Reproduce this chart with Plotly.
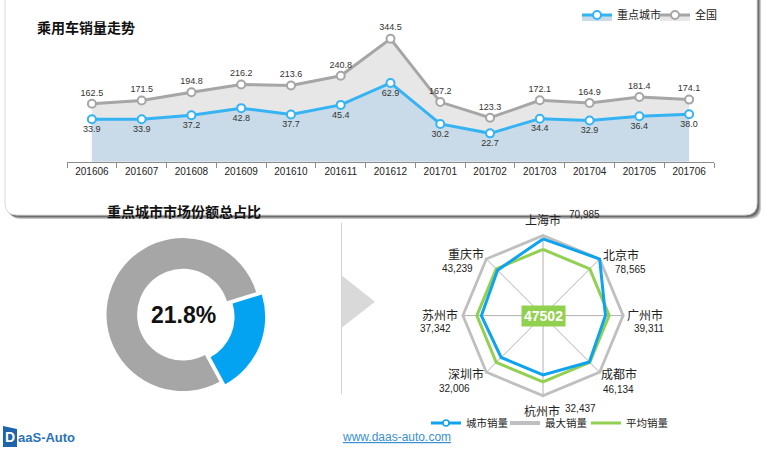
import plotly.graph_objects as go

W, H = 772, 451

# ---------------- data ----------------
months = ["201606", "201607", "201608", "201609", "201610", "201611", "201612",
          "201701", "201702", "201703", "201704", "201705", "201706"]
national = [162.5, 171.5, 194.8, 216.2, 213.6, 240.8, 344.5, 167.2, 123.3, 172.1, 164.9, 181.4, 174.1]
key_cities = [33.9, 33.9, 37.2, 42.8, 37.7, 45.4, 62.9, 30.2, 22.7, 34.4, 32.9, 36.4, 38.0]

share_labels = ["重点城市", "其他"]
share_values = [21.8, 78.2]

cities = ["上海市", "北京市", "广州市", "成都市", "杭州市", "深圳市", "苏州市", "重庆市"]
city_sales = [70985, 78565, 39311, 46134, 32437, 32006, 37342, 43239]
max_sales = [80000] * 8
avg_sales = [47502] * 8

FONT = "Arial, Liberation Sans, Noto Sans CJK SC, sans-serif"
CJK = "Noto Sans CJK SC, Arial, sans-serif"

def px(x):
    return x / W

def py(y):
    return 1 - y / H

fig = go.Figure()

# ---------------- line chart ----------------
fig.add_trace(go.Scatter(
    x=months, y=national, name="全国", mode="lines+markers+text",
    line=dict(color="#a6a6a6", width=3),
    marker=dict(size=8, color="white", line=dict(color="#a6a6a6", width=2)),
    fill="tozeroy", fillcolor="#e7e7e7",
    text=[f"{v:.1f}" for v in national], textposition="top center",
    textfont=dict(size=9, color="#333", family=FONT),
    xaxis="x", yaxis="y", legend="legend", legendrank=2,
))
fig.add_trace(go.Scatter(
    x=months, y=key_cities, name="重点城市", mode="lines+markers+text",
    line=dict(color="#35b3f3", width=3),
    marker=dict(size=8, color="white", line=dict(color="#35b3f3", width=2)),
    fill="tozeroy", fillcolor="#c9dbe8",
    text=[f"{v:.1f}" for v in key_cities], textposition="bottom center",
    textfont=dict(size=9, color="#333", family=FONT),
    xaxis="x", yaxis="y2", legend="legend", legendrank=1,
))

# ---------------- donut ----------------
fig.add_trace(go.Pie(
    labels=share_labels, values=share_values, hole=0.6, sort=False,
    direction="clockwise", rotation=73, pull=[0.08, 0],
    marker=dict(colors=["#04a3f2", "#a6a6a6"], line=dict(width=0)),
    textinfo="none", showlegend=False,
    domain=dict(x=[px(100), px(266)], y=[py(397), py(231)]),
))

# ---------------- radar ----------------
theta = cities + [cities[0]]
fig.add_trace(go.Scatterpolar(
    r=max_sales + [max_sales[0]], theta=theta, name="最大销量", mode="lines",
    line=dict(color="#bfbfbf", width=4), subplot="polar", legend="legend3",
))
fig.add_trace(go.Scatterpolar(
    r=avg_sales + [avg_sales[0]], theta=theta, name="平均销量", mode="lines",
    line=dict(color="#92d050", width=3), subplot="polar", legend="legend4",
))
fig.add_trace(go.Scatterpolar(
    r=city_sales + [city_sales[0]], theta=theta, name="城市销量", mode="lines+markers",
    line=dict(color="#0fa2ef", width=3),
    marker=dict(size=6, color="white", line=dict(color="#0fa2ef", width=1.5)),
    subplot="polar", legend="legend2",
))

# ---------------- shapes ----------------
def rounded_rect(x0, y0, x1, y1, r):
    X0, X1 = px(x0), px(x1)
    Y0, Y1 = py(y0), py(y1)
    rx, ry = r / W, r / H
    return (f"M {X0+rx},{Y0} L {X1-rx},{Y0} Q {X1},{Y0} {X1},{Y0-ry} "
            f"L {X1},{Y1+ry} Q {X1},{Y1} {X1-rx},{Y1} L {X0+rx},{Y1} "
            f"Q {X0},{Y1} {X0},{Y1+ry} L {X0},{Y0-ry} Q {X0},{Y0} {X0+rx},{Y0} Z")

shapes = []
for off, col in [(4, "#c8c8c8"), (3, "#9a9a9a"), (2, "#6e6e6e")]:
    shapes.append(dict(type="path", xref="paper", yref="paper", layer="below",
                       path=rounded_rect(5 + off, -20 + off, 757 + off, 214 + off, 12),
                       fillcolor=col, line=dict(width=0)))
shapes.append(dict(type="path", xref="paper", yref="paper", layer="below",
                   path=rounded_rect(5, -20, 757, 214, 12),
                   fillcolor="white", line=dict(color="#d9d9d9", width=1)))
shapes.append(dict(type="line", xref="paper", yref="paper", layer="below",
                   x0=px(341.5), x1=px(341.5), y0=py(222), y1=py(394),
                   line=dict(color="#d4d4d4", width=1)))
shapes.append(dict(type="path", xref="paper", yref="paper", layer="below",
                   path=f"M {px(342)},{py(275)} L {px(375)},{py(301)} L {px(342)},{py(327)} Z",
                   fillcolor="#d9d9d9", line=dict(width=0)))
shapes.append(dict(type="path", xref="paper", yref="paper", layer="above",
                   path=f"M {px(3)},{py(426)} L {px(17)},{py(429)} L {px(17)},{py(447)} L {px(3)},{py(447)} Z",
                   fillcolor="#1d64ad", line=dict(width=0)))

# ---------------- annotations ----------------
ann = []
def A(**kw):
    kw.setdefault("xref", "paper")
    kw.setdefault("yref", "paper")
    kw.setdefault("showarrow", False)
    ann.append(kw)

A(text="<b>乘用车销量走势</b>", x=px(35), y=py(25), xanchor="left", yanchor="middle",
  font=dict(size=14, color="#111", family=CJK))
A(text="<b>重点城市市场份额总占比</b>", x=px(105), y=py(210), xanchor="left", yanchor="middle",
  font=dict(size=14, color="#111", family=CJK))
A(text=f"<b>{share_values[0]:.1f}%</b>", x=px(183), y=py(314), xanchor="center", yanchor="middle",
  font=dict(size=23, color="#111", family=FONT))
A(text=f"<b>{avg_sales[0]}</b>", x=px(543), y=py(315), xanchor="center", yanchor="middle",
  bgcolor="#92d050", borderpad=2, font=dict(size=14, color="white", family=FONT))

name_pos = [(543, 218), (621, 254), (645, 314), (619, 373), (542, 410), (466, 373), (440, 314), (466, 253)]
val_pos = [(584, 213), (630, 269), (649, 328), (618, 389), (580, 408), (454, 388), (435, 328), (457, 268)]
for c, v, (nx, ny), (vx, vy) in zip(cities, city_sales, name_pos, val_pos):
    A(text=c, x=px(nx), y=py(ny), xanchor="center", yanchor="middle",
      font=dict(size=12, color="#222", family=CJK))
    A(text=f"{v:,}", x=px(vx), y=py(vy), xanchor="center", yanchor="middle",
      font=dict(size=10, color="#222", family=FONT))

A(text="<b>D</b>", x=px(10), y=py(437), xanchor="center", yanchor="middle",
  font=dict(size=14, color="white", family=FONT))
A(text="<b>aaS-Auto</b>", x=px(16), y=py(437), xanchor="left", yanchor="middle",
  font=dict(size=13, color="#2a72b8", family=FONT))
A(text="<u>www.daas-auto.com</u>", x=px(396), y=py(437), xanchor="center", yanchor="middle",
  font=dict(size=12, color="#3a8fd0", family=FONT))

def radar_legend(x):
    return dict(orientation="h", x=px(x), y=py(423), xanchor="left", yanchor="middle",
                font=dict(size=10.5, color="#222", family=CJK), bgcolor="rgba(0,0,0,0)",
                itemwidth=30)

fig.update_layout(
    width=W, height=H, margin=dict(l=0, r=0, t=0, b=0),
    paper_bgcolor="white", plot_bgcolor="rgba(0,0,0,0)",
    font=dict(family=FONT, color="#222"),
    shapes=shapes, annotations=ann,
    xaxis=dict(domain=[px(67), px(714)], type="category", range=[-0.5, 12.5],
               showline=True, linecolor="#8c8c8c", linewidth=1,
               ticks="outside", tickson="boundaries", ticklen=5, tickcolor="#8c8c8c",
               tickfont=dict(size=10, color="#222", family=FONT), showgrid=False, anchor="y"),
    yaxis=dict(domain=[py(160.5), py(17)], range=[0, 400], visible=False, showgrid=False, zeroline=False),
    yaxis2=dict(overlaying="y", range=[0, 114], visible=False, showgrid=False, zeroline=False),
    polar=dict(
        domain=dict(x=[px(461), px(625)], y=[py(397), py(233)]),
        bgcolor="rgba(0,0,0,0)", gridshape="linear",
        radialaxis=dict(range=[-100000, 82000], visible=False, showgrid=False, showline=False),
        angularaxis=dict(categoryorder="array", categoryarray=cities, rotation=90, direction="clockwise",
                         showgrid=True, gridcolor="#b0b0b0", gridwidth=1,
                         showline=False, showticklabels=False, ticks=""),
    ),
    legend=dict(orientation="h", x=px(577), y=py(13), xanchor="left", yanchor="middle",
                font=dict(size=11, color="#222", family=CJK), bgcolor="rgba(0,0,0,0)",
                itemwidth=30, tracegroupgap=0, entrywidth=33, entrywidthmode="pixels"),
    legend2=radar_legend(426),
    legend3=radar_legend(505),
    legend4=radar_legend(586),
)

fig.write_html("out.html", config={"displayModeBar": False},
               post_script="document.body.style.margin='0';document.body.style.overflow='hidden';")
